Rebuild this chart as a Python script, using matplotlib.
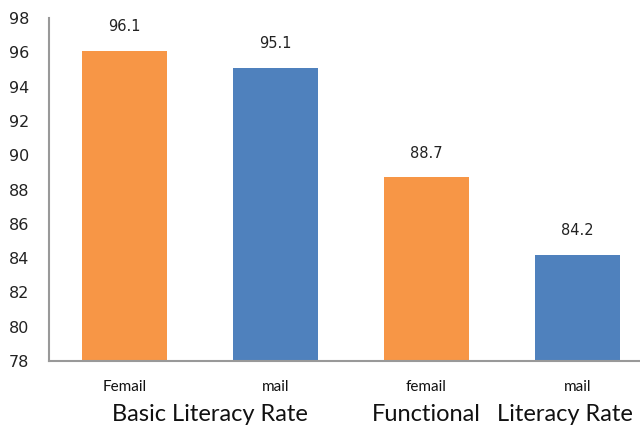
import matplotlib
matplotlib.use("Agg")
import matplotlib.pyplot as plt

categories = ["Femail", "mail", "femail", "mail"]
values = [96.1, 95.1, 88.7, 84.2]
colors = ["#F79646", "#4F81BD", "#F79646", "#4F81BD"]
group_labels = ["Basic Literacy Rate", "Functional", "Literacy Rate"]
yticks = list(range(78, 99, 2))

fig = plt.figure(figsize=(6.4, 4.25), dpi=100)
ax = fig.add_axes([49/640, 64/425, 604/640, 343/425])

x = list(range(len(categories)))
ax.bar(x, values, width=0.56, color=colors, bottom=0)
ax.set_xlim(-0.5, len(categories) - 0.5)
ax.set_ylim(78, 98)
ax.set_yticks(yticks)
ax.set_yticklabels([str(t) for t in yticks], fontsize=11.5, color="#222222", family="DejaVu Sans")
ax.tick_params(axis="y", length=0, pad=14)
ax.set_xticks(x)
ax.set_xticklabels(categories, fontsize=11, family="Lato", color="#111111")
ax.tick_params(axis="x", length=0, pad=14)

for s in ["top", "right"]:
    ax.spines[s].set_visible(False)
for s in ["left", "bottom"]:
    ax.spines[s].set_color("#999999")
    ax.spines[s].set_linewidth(1.5)

for xi, v in zip(x, values):
    ax.annotate(f"{v}", (xi, v), xytext=(0, 12), textcoords="offset points",
                ha="center", va="bottom", fontsize=10.5, color="#222222", family="DejaVu Sans")

group_x = [0.566, 2.0, 2.92]
for gx, lab in zip(group_x, group_labels):
    ax.text(gx, -0.155, lab, transform=ax.get_xaxis_transform(), ha="center", va="center",
            fontsize=17, family="Lato", color="#111111")

fig.savefig("out.png", dpi=100)
